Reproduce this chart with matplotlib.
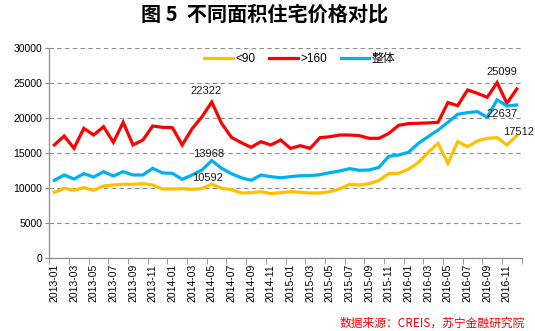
import numpy as np
import matplotlib
matplotlib.use("Agg")
import matplotlib.pyplot as plt

plt.rcParams["font.family"] = ["Liberation Sans", "Noto Sans CJK SC", "DejaVu Sans"]

months = [f"{y}-{m:02d}" for y in (2013, 2014, 2015, 2016) for m in range(1, 13)]

# average price by floor area, yuan / m2
small = [9430, 10000, 9710, 10090, 9710, 10330, 10470, 10570, 10570, 10660, 10470, 9900,
         9900, 9950, 9860, 9950, 10592, 10000, 9810, 9330, 9380, 9520, 9240, 9380,
         9520, 9430, 9330, 9330, 9520, 9900, 10570, 10470, 10660, 11140, 12100, 12140,
         12760, 13670, 15140, 16430, 13570, 16670, 15950, 16760, 17140, 17240, 16190, 17512]
large = [16190, 17470, 15710, 18570, 17610, 18810, 16570, 19420, 16190, 16900, 18900, 18710,
         18660, 16190, 18500, 20200, 22322, 19280, 17280, 16520, 15860, 16660, 16190, 16900,
         15710, 16090, 15710, 17230, 17370, 17610, 17610, 17520, 17140, 17140, 17850, 19000,
         19240, 19290, 19340, 19430, 22240, 21810, 24050, 23570, 23000, 25099, 22140, 24190]
overall = [11140, 11900, 11330, 12090, 11610, 12380, 11760, 12380, 11900, 11900, 12860, 12190,
           12140, 11280, 11900, 12610, 13968, 12860, 12090, 11510, 11140, 11900, 11660, 11510,
           11660, 11800, 11800, 11950, 12240, 12470, 12810, 12570, 12620, 13000, 14570, 14760,
           15140, 16430, 17380, 18330, 19430, 20570, 20810, 20950, 20140, 22637, 21760, 21900]

series = [("<90", small, "#FFC000"), (">160", large, "#FF0000"), ("整体", overall, "#00B0F0")]

# (series values, month index, dx, dy) in points, label centred on the offset
labels = [(large, 16, -4.3, 8.1), (overall, 16, -2.2, 4.7), (small, 16, -2.7, 4.3),
          (large, 45, 3.3, 7.9), (overall, 45, 3.5, -10), (small, 47, 1.6, 2.9)]

fig = plt.figure(figsize=(5.35, 3.31), dpi=100)
ax = fig.add_axes([0.0923, 0.2196, 0.8828, 0.6345])

x = np.arange(len(months))
for name, vals, color in series:
    ax.plot(x, vals, color=color, lw=2.3, label=name, solid_joinstyle="miter")

for vals, i, dx, dy in labels:
    ax.annotate(f"{vals[i]}", (x[i], vals[i]), xytext=(dx, dy), textcoords="offset points",
                ha="center", va="center", fontsize=8, color="#1a1a1a")

ax.set_xlim(-0.5, len(months) - 0.5)
ax.set_ylim(0, 30000)
ax.set_yticks(np.arange(0, 30001, 5000))
ax.yaxis.grid(True, ls=(0, (4, 3)), color="#8c8c8c", lw=0.8)
ax.set_axisbelow(True)
ax.tick_params(axis="y", labelsize=7.5, length=3, color="#8c8c8c", pad=2)

ax.set_xticks(x[::2])
ax.set_xticklabels(months[::2], rotation=90, fontsize=7.5)
ax.set_xticks(np.arange(-0.5, len(months), 2), minor=True)
ax.tick_params(axis="x", which="major", length=0, pad=4)
ax.tick_params(axis="x", which="minor", length=4, color="#8c8c8c")

for s in ("top", "right"):
    ax.spines[s].set_visible(False)
for s in ("left", "bottom"):
    ax.spines[s].set_color("#8c8c8c")
    ax.spines[s].set_linewidth(0.9)

ax.legend(loc="center", bbox_to_anchor=(0.53, 0.95), ncol=3, frameon=False,
          fontsize=8.5, handlelength=2.4, handletextpad=0.2, columnspacing=1.2)

fig.text(0.495, 0.958, "图 5  不同面积住宅价格对比", ha="center", va="center",
         fontsize=14.5, fontweight="bold", family=["Noto Sans CJK SC", "DejaVu Sans"])
fig.text(0.982, 0.024, "数据来源：CREIS，苏宁金融研究院", ha="right", va="center",
         fontsize=8.5, color="#FF0000", style="italic",
         family=["Noto Sans CJK SC", "DejaVu Sans"])

fig.savefig("out.png", dpi=100)
